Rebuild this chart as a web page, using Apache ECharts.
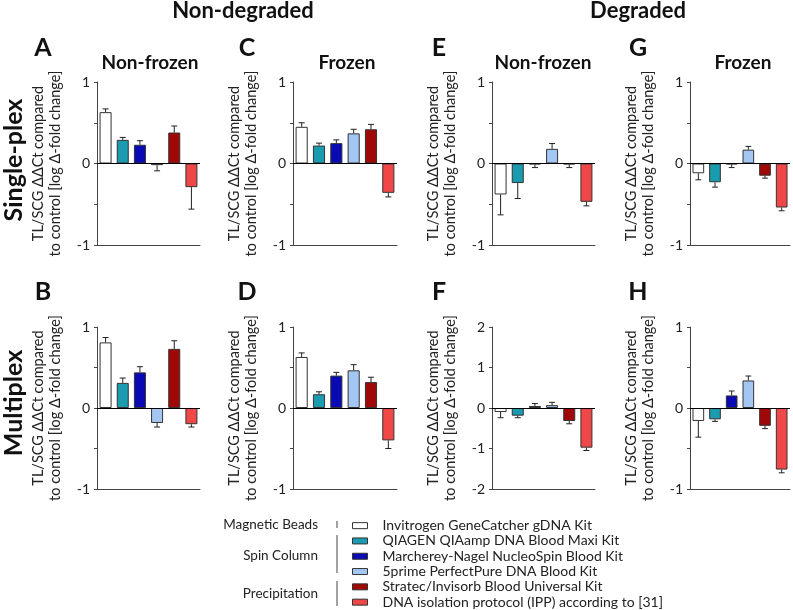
<!DOCTYPE html>
<html>
<head>
<meta charset="utf-8">
<script src="https://cdn.jsdelivr.net/npm/echarts@6/dist/echarts.min.js"></script>
<style>html,body{margin:0;padding:0;background:#fff}#c{width:793px;height:610px}</style>
</head>
<body>
<div id="c"></div>
<script>
// ---- data ----
const categories = [
  'Invitrogen GeneCatcher gDNA Kit',
  'QIAGEN QIAamp DNA Blood Maxi Kit',
  'Marcherey-Nagel NucleoSpin Blood Kit',
  '5prime PerfectPure DNA Blood Kit',
  'Stratec/Invisorb Blood Universal Kit',
  'DNA isolation protocol (IPP) according to [31]'
];
const colors = ['#ffffff', '#1b9bb0', '#0a0ab4', '#a3c6f2', '#a00808', '#f04848'];
const panelLetters = ['A', 'C', 'E', 'G', 'B', 'D', 'F', 'H'];
// bar means
const valA = [0.63, 0.29, 0.23, -0.02, 0.38, -0.29];
const valC = [0.45, 0.22, 0.25, 0.37, 0.42, -0.36];
const valE = [-0.38, -0.24, -0.01, 0.18, -0.01, -0.47];
const valG = [-0.12, -0.23, -0.01, 0.17, -0.15, -0.54];
const valB = [0.81, 0.31, 0.44, -0.185, 0.73, -0.20];
const valD = [0.63, 0.17, 0.40, 0.465, 0.32, -0.40];
const valF = [-0.10, -0.19, 0.05, 0.07, -0.32, -0.98];
const valH = [-0.16, -0.14, 0.155, 0.34, -0.22, -0.76];
// error bar ends
const errA = [0.67, 0.32, 0.28, -0.09, 0.46, -0.56];
const errC = [0.50, 0.25, 0.29, 0.42, 0.48, -0.41];
const errE = [-0.63, -0.43, -0.05, 0.245, -0.05, -0.52];
const errG = [-0.20, -0.29, -0.05, 0.21, -0.18, -0.58];
const errB = [0.87, 0.37, 0.51, -0.235, 0.83, -0.235];
const errD = [0.68, 0.20, 0.44, 0.535, 0.38, -0.50];
const errF = [-0.24, -0.24, 0.11, 0.14, -0.39, -1.05];
const errH = [-0.36, -0.165, 0.21, 0.395, -0.255, -0.80];
// axis ranges
const yMin = [-1, -1, -1, -1, -1, -1, -2, -1];
const yMax = [1, 1, 1, 1, 1, 1, 2, 1];
const yInterval = [0.5, 0.5, 0.5, 0.5, 0.5, 0.5, 1, 0.5];

const vals = [valA, valC, valE, valG, valB, valD, valF, valH];
const errs = [errA, errC, errE, errG, errB, errD, errF, errH];

// ---- layout ----
const FONT = 'Lato, "Open Sans", sans-serif';
const colLeft = [97, 293, 492, 690];
const colWidth = [103, 104, 103, 100];
const rowTop = [82, 327];
const rowHeight = [163, 162];

const grids = [], xAxes = [], yAxes = [], series = [];
for (let g = 0; g < 8; g++) {
  const c = g % 4, r = Math.floor(g / 4);
  grids.push({left: colLeft[c], top: rowTop[r], width: colWidth[c], height: rowHeight[r]});
  xAxes.push({
    type: 'category', gridIndex: g, data: categories,
    axisLine: {onZero: false, lineStyle: {color: '#444', width: 1}},
    axisTick: {show: false}, axisLabel: {show: false}
  });
  yAxes.push({
    type: 'value', gridIndex: g, min: yMin[g], max: yMax[g], interval: yInterval[g],
    axisLine: {show: true, lineStyle: {color: '#444', width: 1}},
    axisTick: {show: true, length: 3, lineStyle: {color: '#444'}},
    splitLine: {show: false},
    axisLabel: {
      margin: 7, fontSize: 14, color: '#222', fontFamily: FONT,
      formatter: v => (Number.isInteger(v) ? String(v) : '')
    },
    name: 'TL/SCG ΔΔCt compared\nto control [log Δ-fold change]',
    nameLocation: 'middle', nameRotate: 90, nameGap: 33,
    nameTextStyle: {fontSize: 14.5, lineHeight: 17, color: '#222', fontFamily: FONT}
  });
  for (let m = 0; m < 6; m++) {
    const d = categories.map((_, i) => (i === m ? vals[g][i] : '-'));
    const s = {
      name: categories[m], type: 'bar', xAxisIndex: g, yAxisIndex: g,
      stack: 'p' + g, data: d, barCategoryGap: '30%', silent: true,
      itemStyle: {color: colors[m], borderColor: '#333', borderWidth: 1},
      animation: false
    };
    if (m === 0) {
      s.markLine = {
        silent: true, symbol: 'none', animation: false,
        label: {show: false},
        lineStyle: {color: '#000', width: 1, type: 'solid'},
        data: [{yAxis: 0}]
      };
    }
    series.push(s);
  }
  series.push({
    type: 'custom', xAxisIndex: g, yAxisIndex: g, z: 5, silent: true, animation: false,
    data: vals[g].map((v, i) => [i, v, errs[g][i]]),
    renderItem: function (params, api) {
      const i = api.value(0);
      const p0 = api.coord([i, api.value(1)]);
      const p1 = api.coord([i, api.value(2)]);
      const bw = api.size([1, 0])[0] * 0.7;
      const cap = bw * 0.25;
      return {
        type: 'group',
        children: [
          {type: 'line', shape: {x1: p0[0], y1: p0[1], x2: p1[0], y2: p1[1]},
           style: {stroke: '#222', lineWidth: 1}},
          {type: 'line', shape: {x1: p1[0] - cap, y1: p1[1], x2: p1[0] + cap, y2: p1[1]},
           style: {stroke: '#222', lineWidth: 1}}
        ]
      };
    }
  });
}

function txt(text, x, y, size, bold, extra) {
  return Object.assign({
    type: 'text', x: x, y: y, silent: true,
    style: {text: text, fill: '#111', font: (bold ? 'bold ' : '') + size + 'px ' + FONT,
            align: 'center', verticalAlign: 'middle'}
  }, extra || {});
}
const letterX = [43, 247, 439, 638];
const graphics = [
  txt('Non-degraded', 243, 11, 22, true),
  txt('Degraded', 638, 11, 22, true),
  txt('Single-plex', 14, 160, 25, true, {rotation: Math.PI / 2}),
  txt('Multiplex', 14, 403, 25, true, {rotation: Math.PI / 2}),
  txt('Non-frozen', 150, 63, 19, true),
  txt('Frozen', 347, 63, 19, true),
  txt('Non-frozen', 543, 63, 19, true),
  txt('Frozen', 743, 63, 19, true)
];
panelLetters.forEach((L, g) => {
  graphics.push(txt(L, letterX[g % 4], g < 4 ? 48 : 292, 25, true));
});
// legend group labels
const groupLabels = [['Magnetic Beads', 525], ['Spin Column', 556], ['Precipitation', 594]];
groupLabels.forEach(([t, y]) => {
  graphics.push({type: 'text', x: 318, y: y, silent: true,
    style: {text: t, fill: '#222', font: '13.5px ' + FONT, align: 'right', verticalAlign: 'middle'}});
});
[[521, 528], [535, 573], [581, 606]].forEach(([a, b]) => {
  graphics.push({type: 'line', silent: true, shape: {x1: 337, y1: a, x2: 337, y2: b},
    style: {stroke: '#444', lineWidth: 1}});
});

const chart = echarts.init(document.getElementById('c'), null, {renderer: 'canvas'});
chart.setOption({
  animation: false,
  backgroundColor: '#fff',
  grid: grids, xAxis: xAxes, yAxis: yAxes, series: series,
  legend: {
    data: categories, orient: 'vertical', left: 352, top: 518, height: 100,
    padding: 0, itemWidth: 15, itemHeight: 6, itemGap: 0, icon: 'rect',
    selectedMode: false,
    textStyle: {fontSize: 14, lineHeight: 15.3, color: '#222', fontFamily: FONT, padding: [0, 0, 0, 10]},
    itemStyle: {borderColor: '#333', borderWidth: 1}
  },
  graphic: graphics
});
</script>
</body>
</html>
